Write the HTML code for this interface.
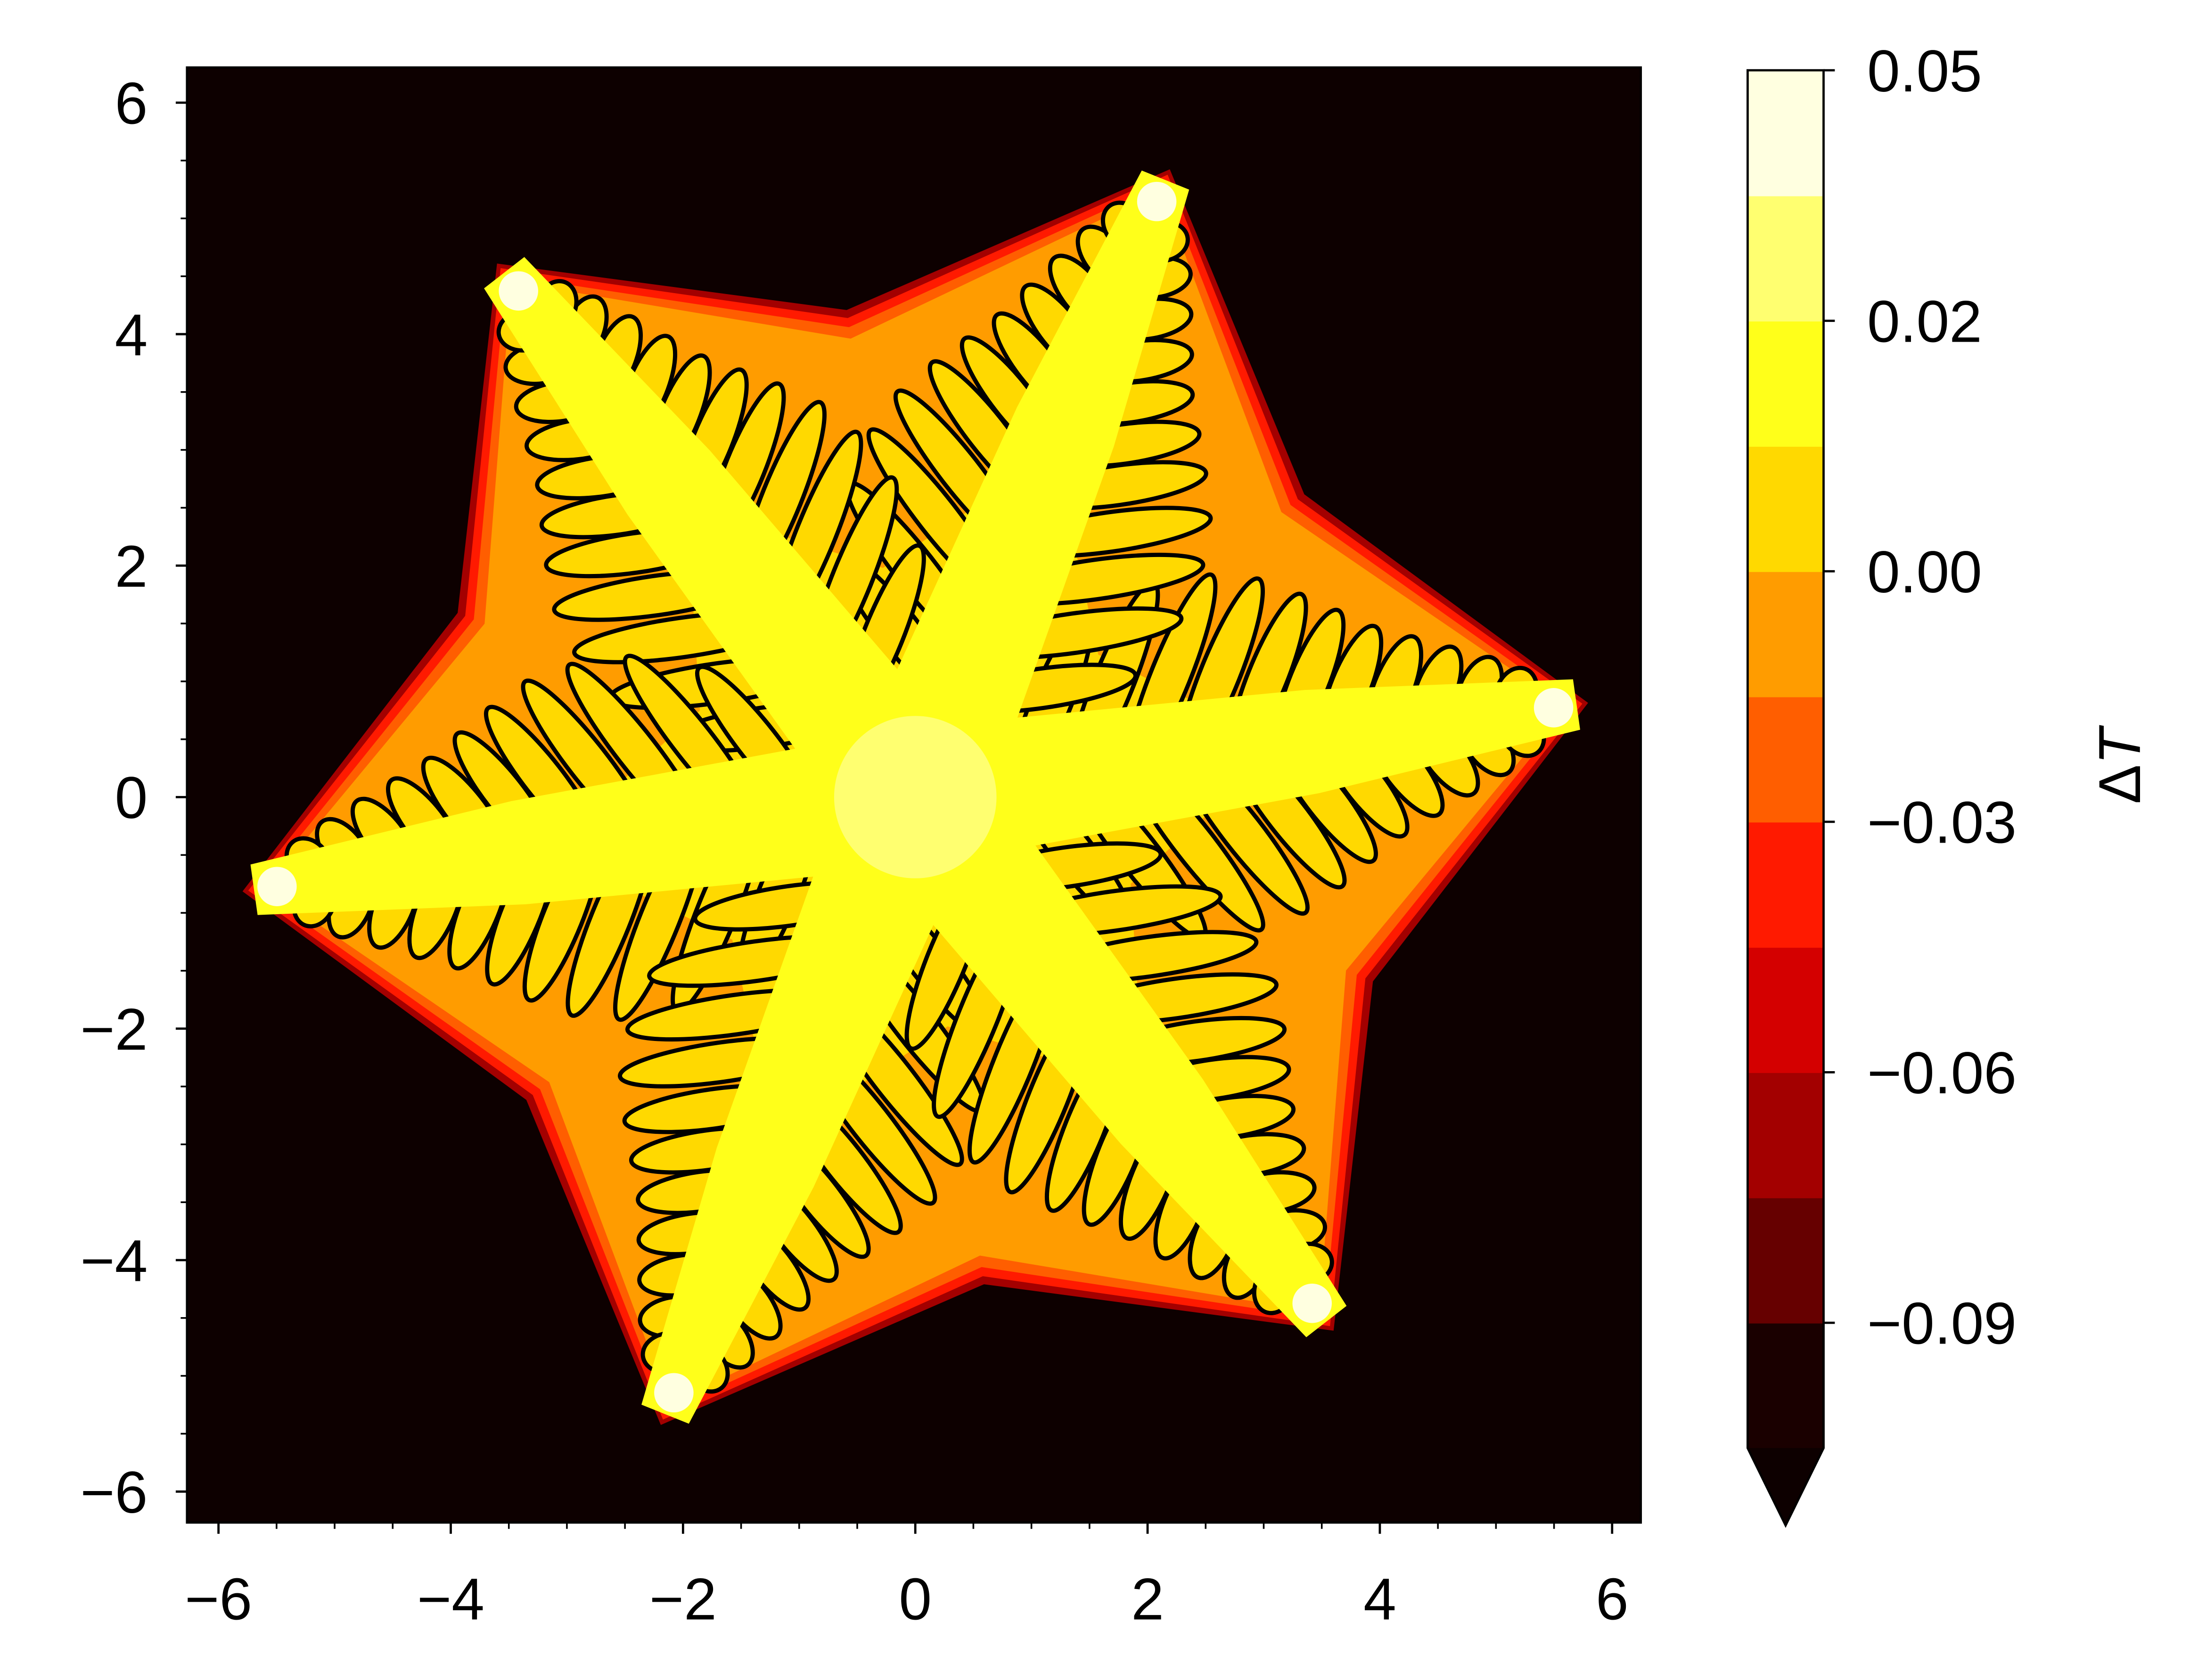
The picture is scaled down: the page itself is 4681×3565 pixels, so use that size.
<!DOCTYPE html>
<html><head><meta charset="utf-8"><style>
html,body{margin:0;padding:0;background:#fff;}
svg{display:block;}
text{font-family:"Liberation Sans","DejaVu Sans",sans-serif;fill:#000;}
</style></head><body>
<svg id="chart" width="4681" height="3565" viewBox="0 0 1569 1195" preserveAspectRatio="none" xmlns="http://www.w3.org/2000/svg">
<rect x="0" y="0" width="1569" height="1195" fill="#fff"/>
<g id="plot"></g>
<g id="axes"></g>
<g id="cbar"></g>
</svg>
<script>
const armAngles = [8, 68, 128, 188, 248, 308];
const armLength = [5.75, 5.75, 5.75, 5.75, 5.75, 5.75];
const branchPos = [0.9, 1.4, 1.9, 2.35, 2.8, 3.2, 3.6, 4.0, 4.4, 4.8, 5.15];
const branchLen = [1.5, 1.7, 1.7, 1.6, 1.4, 1.2, 1.0, 0.85, 0.7, 0.55, 0.4];
const xTicks = [-6, -4, -2, 0, 2, 4, 6];
const yTicks = [-6, -4, -2, 0, 2, 4, 6];
const cbColors = ["#1a0000","#660000","#a30000","#d40000","#ff1a00","#ff5e00","#ff9c00","#ffd900","#ffff1a","#ffff70","#ffffe0"];
const cbTickLevelIndex = [11, 9, 7, 5, 3, 1];
const cbTickLabels = ["0.05","0.02","0.00","\u22120.03","\u22120.06","\u22120.09"];

const NS = "http://www.w3.org/2000/svg";
const FS = 42;
const X = v => 651 + 82.6 * v;
const Y = v => 567 - 82.33 * v;
function mk(tag, attrs, parent){const e=document.createElementNS(NS,tag);for(const k in attrs)e.setAttribute(k,attrs[k]);parent.appendChild(e);return e;}
const plot=document.getElementById('plot'), axes=document.getElementById('axes'), cbar=document.getElementById('cbar');

let bg=mk('rect',{x:133,y:48,width:1034,height:1035,fill:'#0d0000'},plot);



function star(rOut,rIn){
  let pts=[];
  armAngles.forEach((a,i)=>{
    const r1=a*Math.PI/180, r2=(a+30)*Math.PI/180;
    pts.push(X(rOut*Math.cos(r1))+','+Y(rOut*Math.sin(r1)));
    pts.push(X(rIn*Math.cos(r2))+','+Y(rIn*Math.sin(r2)));
  });
  return pts.join(' ');
}
[[5.85,4.25,'#a30000'],[5.8,4.18,'#ff1a00'],[5.72,4.1,'#ff5e00'],[5.65,4.0,'#ff9c00']].forEach((s,i)=>{
  const p=mk('polygon',{points:star(s[0],s[1]),fill:s[2],'stroke-linejoin':'round'},plot);
  
  
});
const gp=mk('polygon',{points:star(3.2,2.0),fill:'#ffd900'},plot);



armAngles.forEach((a,ai)=>{
  const t=a*Math.PI/180, ux=Math.cos(t), uy=Math.sin(t), nx=-uy, ny=ux;
  const L=armLength[ai];
  const P=(s,w)=>X(s*ux+w*nx)+','+Y(s*uy+w*ny);
  branchPos.forEach((s,bi)=>{
    if(s>L-0.3)return;
    const len=branchLen[bi];
    [1,-1].forEach(side=>{
      const ang=side*60*Math.PI/180;
      const dx=Math.cos(ang)*ux - Math.sin(ang)*uy, dy=Math.sin(ang)*ux + Math.cos(ang)*uy;
      const cx=s*ux + dx*len*0.5, cy=s*uy + dy*len*0.5;
      const deg=-Math.atan2(dy,dx)*180/Math.PI;
      const e=mk('ellipse',{cx:X(cx),cy:Y(cy),rx:len*0.55*82.5,ry:0.17*82.5,fill:'#ffd900',stroke:'#000','stroke-width':3,transform:`rotate(${deg} ${X(cx)} ${Y(cy)})`},plot);
      
      
    });
  });
  const arm=mk('polygon',{points:[P(0,0.6),P(L*0.6,0.45),P(L,0.22),P(L,-0.22),P(L*0.6,-0.45),P(0,-0.6)].join(' '),fill:'#ffff1a'},plot);
  
  
  const tip=mk('circle',{cx:X((L-0.2)*ux),cy:Y((L-0.2)*uy),r:14,fill:'#ffffe0'},plot);
  
  
});
const c=mk('circle',{cx:X(0),cy:Y(0),r:0.7*82.5,fill:'#ffff70'},plot);



const sp=mk('rect',{x:133,y:48,width:1034,height:1035,fill:'none',stroke:'#000','stroke-width':1.6},axes);


for(let v=-6;v<=6.01;v+=0.5){
  const major=Math.abs(v%2)<0.01;
  const lx=mk('line',{x1:X(v),x2:X(v),y1:1083,y2:1083+(major?8:4.5),stroke:'#000','stroke-width':major?1.6:1.2},axes);
  
  
  const ly=mk('line',{y1:Y(v),y2:Y(v),x1:133,x2:133-(major?8:4.5),stroke:'#000','stroke-width':major?1.6:1.2},axes);
  
  
}
const lab=v=>v<0?'\u2212'+(-v):''+v;
xTicks.forEach(v=>{
  const t=mk('text',{x:X(v),y:1152,'font-size':FS,'text-anchor':'middle'},axes);t.textContent=lab(v);
  
  
});
yTicks.forEach(v=>{
  const t=mk('text',{x:105,y:Y(v)+15,'font-size':FS,'text-anchor':'end'},axes);t.textContent=lab(v);
  
  
});

const cx0=1243,cw=54,ctop=50,cbot=1030;
const bandH=(cbot-ctop)/cbColors.length;
cbColors.forEach((col,i)=>{
  const r=mk('rect',{x:cx0,y:cbot-(i+1)*bandH,width:cw,height:bandH+0.5,fill:col},cbar);
  
  
});
const tri=mk('polygon',{points:`${cx0},${cbot} ${cx0+cw},${cbot} ${cx0+cw/2},1085`,fill:'#0d0000'},cbar);


const cf=mk('polygon',{points:`${cx0},${ctop} ${cx0+cw},${ctop} ${cx0+cw},${cbot} ${cx0+cw/2},1085 ${cx0},${cbot}`,fill:'none',stroke:'#000','stroke-width':1.6},cbar);


cbTickLevelIndex.forEach((k,i)=>{
  const yy=cbot-k*bandH;
  const l=mk('line',{x1:cx0+cw,x2:cx0+cw+8,y1:yy,y2:yy,stroke:'#000','stroke-width':1.6},cbar);
  
  
  const t=mk('text',{x:1328,y:yy+15,'font-size':FS},cbar);t.textContent=cbTickLabels[i];
  
  
});
const tl=mk('text',{x:1522,y:545,'font-size':FS,'text-anchor':'middle',transform:'rotate(-90 1522 545)'},cbar);
tl.innerHTML='\u0394<tspan font-style="italic">T</tspan>';


</script>
</body></html>
